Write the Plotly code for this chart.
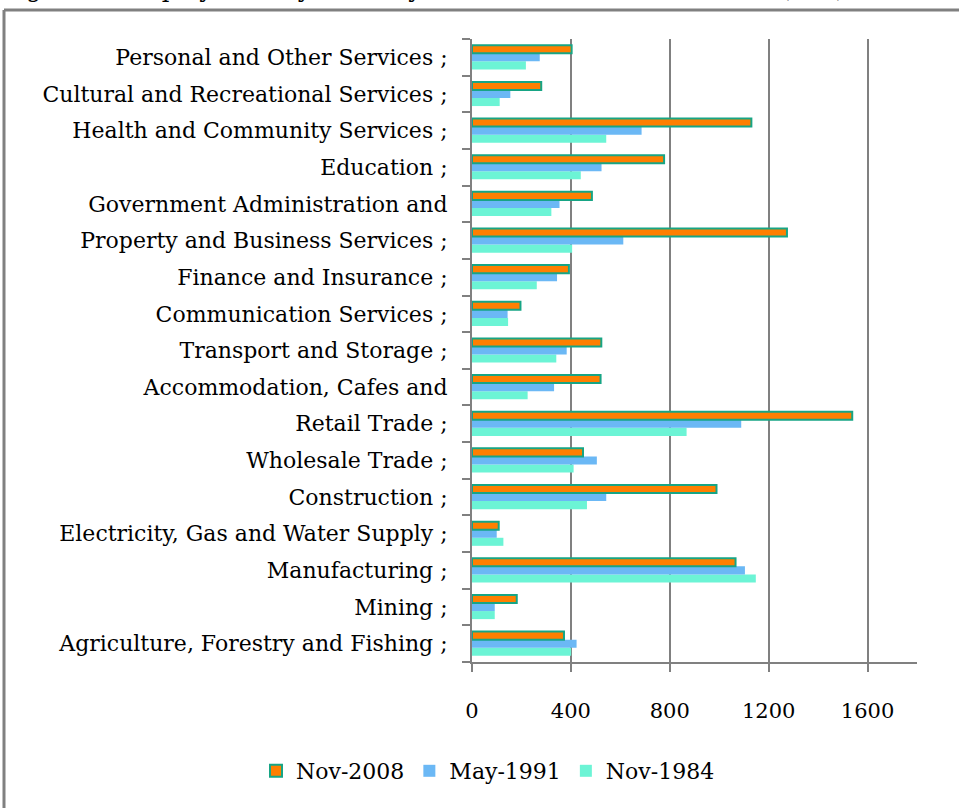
import plotly.graph_objects as go

# Categories listed bottom-to-top
industries = [
    "Agriculture, Forestry and Fishing ;",
    "Mining ;",
    "Manufacturing ;",
    "Electricity, Gas and Water Supply ;",
    "Construction ;",
    "Wholesale Trade ;",
    "Retail Trade ;",
    "Accommodation, Cafes and",
    "Transport and Storage ;",
    "Communication Services ;",
    "Finance and Insurance ;",
    "Property and Business Services ;",
    "Government Administration and",
    "Education ;",
    "Health and Community Services ;",
    "Cultural and Recreational Services ;",
    "Personal and Other Services ;",
]

nov_2008 = [372, 181, 1066, 108, 989, 449, 1538, 520, 523, 196, 392, 1274, 485, 777, 1130, 280, 403]
may_1991 = [423, 92, 1104, 100, 543, 505, 1089, 332, 383, 144, 344, 612, 354, 524, 686, 155, 274]
nov_1984 = [401, 92, 1148, 127, 465, 411, 868, 225, 341, 146, 262, 405, 321, 440, 543, 112, 218]

x_ticks = [0, 400, 800, 1200, 1600]
x_tick_text = ["0", "400", "800", "1200", "1600"]

title_text = "Figure 1: Employment by Industry, 1984, 1991, 2008, Australia (000)"

FONT = "DejaVu Serif"
GRAY = "#808080"

fig = go.Figure()
fig.add_trace(go.Bar(
    y=industries, x=nov_1984, name="Nov-1984", orientation="h",
    marker=dict(color="#6CF4D5", line=dict(width=0)),
))
fig.add_trace(go.Bar(
    y=industries, x=may_1991, name="May-1991", orientation="h",
    marker=dict(color="#6BB8F5", line=dict(width=0)),
))
fig.add_trace(go.Bar(
    y=industries, x=nov_2008, name="Nov-2008", orientation="h",
    marker=dict(color="#FF7F00", line=dict(color="#17A585", width=2)),
))

W, H = 959, 808
L, R, T, B = 472, 42, 39, 146
pw, ph = W - L - R, H - T - B


def px(x):
    return (x - L) / pw


def py(y):
    return (H - B - y) / ph


fig.update_layout(
    width=W, height=H,
    margin=dict(l=L, r=R, t=T, b=B, pad=0),
    paper_bgcolor="white", plot_bgcolor="white",
    barmode="group", bargap=0.34, bargroupgap=0,
    font=dict(family=FONT, size=22, color="black"),
    showlegend=True,
    legend=dict(
        orientation="h", traceorder="reversed",
        x=px(256), xanchor="left", y=py(771), yanchor="middle",
        font=dict(family=FONT, size=22, color="black"),
        bgcolor="rgba(0,0,0,0)",
    ),
    xaxis=dict(
        range=[0, 1800], tickmode="array", tickvals=x_ticks, ticktext=x_tick_text,
        showgrid=True, gridcolor=GRAY, gridwidth=2, zeroline=False,
        showline=True, linecolor=GRAY, linewidth=2,
        ticks="outside", ticklen=8, tickwidth=2, tickcolor=GRAY,
        tickfont=dict(family=FONT, size=21, color="black"),
        ticklabelstandoff=21,
        fixedrange=True,
    ),
    yaxis=dict(
        type="category", categoryorder="array", categoryarray=industries,
        range=[-0.5, len(industries) - 0.5],
        showgrid=False, zeroline=False,
        showline=True, linecolor=GRAY, linewidth=2,
        ticks="outside", ticklen=8, tickwidth=2, tickcolor=GRAY,
        tickson="boundaries",
        tickfont=dict(family=FONT, size=22, color="black"),
        ticklabelstandoff=18,
        fixedrange=True,
    ),
    shapes=[
        dict(type="line", xref="paper", yref="paper",
             x0=px(4), x1=px(4), y0=py(830), y1=py(10),
             line=dict(color=GRAY, width=3)),
        dict(type="line", xref="paper", yref="paper",
             x0=px(4), x1=px(990), y0=py(10), y1=py(10),
             line=dict(color=GRAY, width=3)),
    ],
    annotations=[
        dict(text=title_text, xref="paper", yref="paper",
             x=px(0), xanchor="left", y=py(5), yanchor="bottom",
             showarrow=False, font=dict(family=FONT, size=24, color="black")),
    ],
)

fig.write_html("out.html", config={"displayModeBar": False})
